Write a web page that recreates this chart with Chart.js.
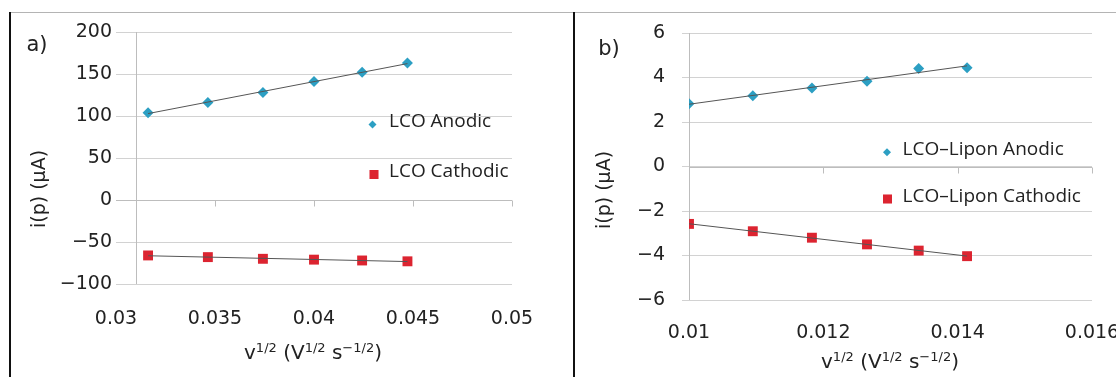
<!DOCTYPE html>
<html>
<head>
<meta charset="utf-8">
<script src="https://cdn.jsdelivr.net/npm/chart.js@4.4.1/dist/chart.umd.min.js"></script>
<style>
  html, body { margin: 0; padding: 0; background: #fff; }
  body { width: 1116px; height: 377px; overflow: hidden; position: relative;
         font-family: "DejaVu Sans", sans-serif; color: #222; }
  .rule-top { position: absolute; left: 10px; top: 12px; width: 1106px; height: 1px; background: #b4b4b4; }
  .rule-v { position: absolute; top: 12px; width: 2px; height: 365px; background: #111; }
  .panel { position: absolute; top: 0; height: 377px; }
  .tag { position: absolute; font-size: 21px; line-height: 1; transform: translate(-50%, -50%); }
  .ytitle { position: absolute; font-size: 19px; white-space: nowrap; line-height: 1;
            transform: translate(-50%, -50%) rotate(-90deg); }
  .xtitle { position: absolute; font-size: 20px; white-space: nowrap; line-height: 1;
            transform: translate(-50%, -50%); }
  sup { font-size: 13px; vertical-align: 7px; line-height: 0; }
</style>
</head>
<body>
<div class="rule-top"></div>
<div class="rule-v" style="left:9px"></div>
<div class="rule-v" style="left:573px"></div>

<div class="panel" style="left:10px;width:564px"><canvas id="chartA" width="564" height="377"></canvas></div>
<div class="panel" style="left:575px;width:600px"><canvas id="chartB" width="600" height="377"></canvas></div>

<div class="tag" style="left:37px;top:44px">a)</div>
<div class="tag" style="left:609px;top:48px">b)</div>
<div class="ytitle" style="left:38px;top:189px">i(p) (μA)</div>
<div class="ytitle" style="left:603px;top:190px">i(p) (μA)</div>
<div class="xtitle" style="left:313px;top:352px">v<sup>1/2</sup> (V<sup>1/2</sup> s<sup>−1/2</sup>)</div>
<div class="xtitle" style="left:890px;top:361px">v<sup>1/2</sup> (V<sup>1/2</sup> s<sup>−1/2</sup>)</div>

<script>
// square root of scan rate, peak currents
const sqrtScanA = [0.03162, 0.03464, 0.03742, 0.04, 0.04243, 0.04472];
const lcoAnodic = [104, 116, 128, 141, 152, 163];
const lcoCathodic = [-66, -68, -70, -71, -72, -73];

const sqrtScanB = [0.01, 0.01095, 0.01183, 0.01265, 0.01342, 0.01414];
const liponAnodic = [2.82, 3.18, 3.53, 3.83, 4.40, 4.44];
const liponCathodic = [-2.58, -2.91, -3.20, -3.50, -3.78, -4.03];

const xTicksA = [0.03, 0.035, 0.04, 0.045, 0.05];
const yTicksA = [-100, -50, 0, 50, 100, 150, 200];
const xTicksB = [0.01, 0.012, 0.014, 0.016];
const yTicksB = [-6, -4, -2, 0, 2, 4, 6];

const TEAL = '#2c9fc3';
const RED = '#dc2430';
const GRID = '#d2d2d2';
const AXIS = '#bdbdbd';
const TEXT = '#222';
const tickFont = { family: 'DejaVu Sans', size: 19 };

const fmtX = v => String(+(+v).toFixed(4));
const fmtY = v => (v < 0 ? '\u2212' + Math.abs(v) : String(v));

// least squares trendline over the points, drawn from first to last x
function trend(xs, ys) {
  const n = xs.length;
  const mx = xs.reduce((a, b) => a + b, 0) / n;
  const my = ys.reduce((a, b) => a + b, 0) / n;
  let sxy = 0, sxx = 0;
  for (let i = 0; i < n; i++) {
    sxy += (xs[i] - mx) * (ys[i] - my);
    sxx += (xs[i] - mx) * (xs[i] - mx);
  }
  const k = sxy / sxx, b = my - k * mx;
  return [{ x: xs[0], y: k * xs[0] + b }, { x: xs[n - 1], y: k * xs[n - 1] + b }];
}

const pts = (xs, ys) => xs.map((x, i) => ({ x, y: ys[i] }));

// vertical axis line, zero line and its tick marks
const axisCross = {
  id: 'axisCross',
  beforeDatasetsDraw(chart, args, opts) {
    const { ctx, chartArea, scales: { x, y } } = chart;
    const x0 = Math.round(x.getPixelForValue(opts.crossX)) + 0.5;
    const y0 = Math.round(y.getPixelForValue(0)) + 0.5;
    ctx.save();
    ctx.strokeStyle = AXIS;
    ctx.lineWidth = 1;
    ctx.beginPath();
    ctx.moveTo(x0, chartArea.top);
    ctx.lineTo(x0, chartArea.bottom);
    ctx.moveTo(chartArea.left, y0);
    ctx.lineTo(chartArea.right, y0);
    x.ticks.forEach(t => {
      const px = Math.round(x.getPixelForValue(t.value)) + 0.5;
      if (px > x0 + 2) {
        ctx.moveTo(px, y0);
        ctx.lineTo(px, y0 + 6);
      }
    });
    ctx.stroke();
    ctx.restore();
  }
};

// legend drawn inside the plot area
const insideLegend = {
  id: 'insideLegend',
  afterDatasetsDraw(chart, args, opts) {
    const { ctx, chartArea } = chart;
    (opts.items || []).forEach(item => {
      const ds = chart.data.datasets[item.dataset];
      const mx = chartArea.left + item.dx;
      const my = chartArea.top + item.dy;
      ctx.save();
      ctx.fillStyle = ds.backgroundColor;
      ctx.strokeStyle = ds.backgroundColor;
      Chart.helpers.drawPoint(ctx, { pointStyle: ds.pointStyle, radius: item.r, borderWidth: 0, rotation: 0 }, mx, my);
      ctx.fillStyle = TEXT;
      ctx.font = '19px "Open Sans"';
      ctx.textBaseline = 'middle';
      ctx.fillText(ds.label, mx + item.gap, my + item.ty);
      ctx.restore();
    });
  }
};

function makeChart(id, cfg) {
  return new Chart(document.getElementById(id), {
    type: 'scatter',
    data: {
      datasets: [
        { label: cfg.names[0], data: pts(cfg.xs, cfg.up), pointStyle: 'rectRot', pointRadius: 5.5,
          backgroundColor: TEAL, borderColor: TEAL, borderWidth: 0, order: 2 },
        { label: cfg.names[1], data: pts(cfg.xs, cfg.down), pointStyle: 'rect', pointRadius: 7,
          backgroundColor: RED, borderColor: RED, borderWidth: 0, order: 2 },
        { data: trend(cfg.xs, cfg.up), showLine: true, pointRadius: 0, borderColor: '#555', borderWidth: 1, order: 1 },
        { data: trend(cfg.xs, cfg.down), showLine: true, pointRadius: 0, borderColor: '#555', borderWidth: 1, order: 1 }
      ]
    },
    options: {
      responsive: false,
      animation: false,
      layout: { padding: cfg.padding },
      plugins: {
        legend: { display: false },
        tooltip: { enabled: false },
        axisCross: { crossX: cfg.crossX },
        insideLegend: { items: cfg.legend }
      },
      scales: {
        x: {
          type: 'linear', min: cfg.xTicks[0], max: cfg.xTicks[cfg.xTicks.length - 1],
          afterBuildTicks: s => { s.ticks = cfg.xTicks.map(v => ({ value: v })); },
          afterFit: s => { s.height = cfg.xHeight; },
          grid: { display: false },
          border: { display: false },
          ticks: { padding: cfg.xPad, font: tickFont, color: TEXT, maxRotation: 0, callback: fmtX }
        },
        y: {
          type: 'linear', min: cfg.yTicks[0], max: cfg.yTicks[cfg.yTicks.length - 1],
          afterBuildTicks: s => { s.ticks = cfg.yTicks.map(v => ({ value: v })); },
          afterFit: s => { s.width = cfg.yWidth; },
          grid: { color: GRID, drawTicks: cfg.yTickLen > 0, tickLength: cfg.yTickLen, tickColor: GRID },
          border: { display: false },
          ticks: { padding: cfg.yPad, font: tickFont, color: TEXT, callback: fmtY }
        }
      }
    },
    plugins: [axisCross, insideLegend]
  });
}

makeChart('chartA', {
  names: ['LCO Anodic', 'LCO Cathodic'],
  xs: sqrtScanA, up: lcoAnodic, down: lcoCathodic,
  xTicks: xTicksA, yTicks: yTicksA, crossX: 0.031,
  padding: { left: 0, top: 32, right: 62, bottom: 0 },
  xHeight: 93, xPad: 16, yWidth: 106, yPad: 4, yTickLen: 0,
  legend: [
    { dataset: 0, dx: 256.5, dy: 92.5, r: 4, gap: 16.5, ty: -2.5 },
    { dataset: 1, dx: 258, dy: 142.5, r: 6.4, gap: 15, ty: -2.5 }
  ]
});

makeChart('chartB', {
  names: ['LCO\u2013Lipon Anodic', 'LCO\u2013Lipon Cathodic'],
  xs: sqrtScanB, up: liponAnodic, down: liponCathodic,
  xTicks: xTicksB, yTicks: yTicksB, crossX: 0.01,
  padding: { left: 0, top: 33, right: 83, bottom: 0 },
  xHeight: 77, xPad: 14, yWidth: 114, yPad: 17, yTickLen: 7,
  legend: [
    { dataset: 0, dx: 198, dy: 119.3, r: 4, gap: 15.6, ty: -3 },
    { dataset: 1, dx: 198.5, dy: 166, r: 6.4, gap: 15, ty: -2.5 }
  ]
});
</script>
</body>
</html>
